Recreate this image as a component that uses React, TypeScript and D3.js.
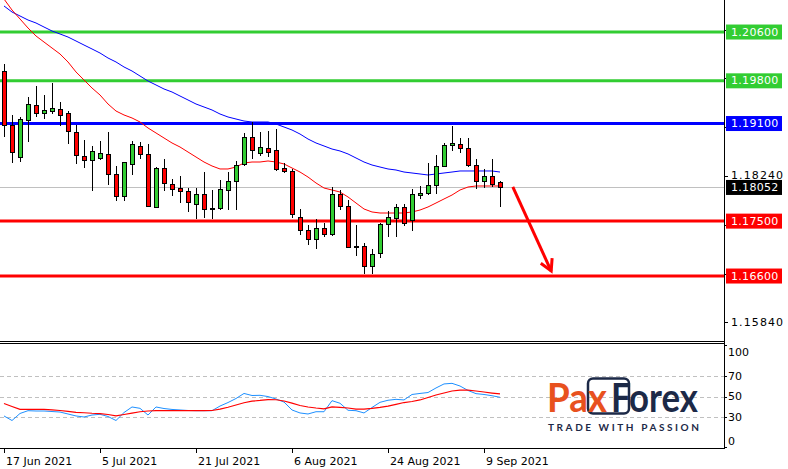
import * as d3 from "d3";

// daily EURUSD-like candles, 17 Jun 2021 .. 13 Sep 2021
const open = [
  1.19961, 1.19076, 1.18551, 1.19158, 1.19404, 1.19273, 1.19305, 1.19338, 1.19273, 1.18961,
  1.18568, 1.18502, 1.18535, 1.18601, 1.18273, 1.17912, 1.18437, 1.18732, 1.18601, 1.17732,
  1.18371, 1.18109, 1.18043, 1.17994, 1.17781, 1.17945, 1.17715, 1.17715, 1.1801, 1.18158,
  1.18437, 1.18879, 1.18617, 1.18699, 1.18666, 1.18371, 1.18322, 1.17568, 1.17355, 1.17207,
  1.17387, 1.17289, 1.17945, 1.17748, 1.17092, 1.17092, 1.16764, 1.16977, 1.17453, 1.17551,
  1.17732, 1.17518, 1.17928, 1.17961, 1.18092, 1.18404, 1.18748, 1.18764, 1.18699, 1.1842,
  1.18158, 1.1824, 1.18141,
];
const high = [
  1.20076, 1.1924, 1.19207, 1.19535, 1.19715, 1.19568, 1.19764, 1.19453, 1.19305, 1.19076,
  1.1883, 1.18732, 1.18814, 1.18961, 1.18404, 1.18469, 1.18814, 1.18797, 1.18764, 1.18387,
  1.18518, 1.18191, 1.1824, 1.18043, 1.18043, 1.18305, 1.1801, 1.18174, 1.18305, 1.18486,
  1.18945, 1.19125, 1.18961, 1.18978, 1.1901, 1.18453, 1.18355, 1.17699, 1.17437, 1.17535,
  1.17469, 1.18059, 1.1801, 1.17846, 1.17437, 1.17142, 1.17043, 1.17469, 1.17666, 1.17781,
  1.17781, 1.18027, 1.18076, 1.18453, 1.18584, 1.18781, 1.19059, 1.18863, 1.18863, 1.18518,
  1.18355, 1.18518, 1.18158,
];
const low = [
  1.18879, 1.18453, 1.18469, 1.18797, 1.19207, 1.19174, 1.19256, 1.19059, 1.18764, 1.18437,
  1.18371, 1.17994, 1.18502, 1.18092, 1.1783, 1.1783, 1.18256, 1.18518, 1.17732, 1.17715,
  1.17994, 1.17912, 1.17797, 1.1765, 1.17535, 1.17551, 1.17535, 1.17682, 1.17682, 1.17682,
  1.18404, 1.18518, 1.18568, 1.18551, 1.18322, 1.18289, 1.17551, 1.17273, 1.17109, 1.17043,
  1.1724, 1.17256, 1.17682, 1.17059, 1.16928, 1.16633, 1.16633, 1.16895, 1.1724, 1.1724,
  1.1742, 1.17338, 1.17863, 1.17928, 1.17945, 1.18387, 1.1865, 1.18617, 1.18387, 1.18027,
  1.18043, 1.18059, 1.17732,
];
const close = [
  1.19076, 1.18633, 1.19174, 1.1942, 1.19273, 1.19322, 1.19355, 1.1924, 1.18978, 1.18584,
  1.18502, 1.1865, 1.18617, 1.18273, 1.17912, 1.18469, 1.18764, 1.18601, 1.17748, 1.18371,
  1.18125, 1.18027, 1.17994, 1.17814, 1.17945, 1.17699, 1.17699, 1.18027, 1.18158, 1.1842,
  1.18879, 1.18666, 1.18715, 1.18633, 1.18355, 1.18322, 1.17617, 1.17355, 1.17207, 1.17387,
  1.17289, 1.17945, 1.17748, 1.17076, 1.17076, 1.16764, 1.16961, 1.17453, 1.17568, 1.17732,
  1.17469, 1.17945, 1.17961, 1.18092, 1.18404, 1.18748, 1.18781, 1.18699, 1.1842, 1.18158,
  1.1824, 1.18109, 1.18052,
];
const maFast = [
  1.21141, 1.20961, 1.20814, 1.20666, 1.20535, 1.20436, 1.20338, 1.2024, 1.20109, 1.19945,
  1.19814, 1.19682, 1.19568, 1.1942, 1.19305, 1.1924, 1.19191, 1.19125, 1.19027, 1.18945,
  1.18863, 1.18781, 1.18715, 1.18633, 1.18551, 1.18469, 1.18404, 1.18355, 1.18355, 1.18387,
  1.18453, 1.18469, 1.18469, 1.18486, 1.18469, 1.18437, 1.18371, 1.18305, 1.18223, 1.18125,
  1.18043, 1.1801, 1.17977, 1.17896, 1.17797, 1.17699, 1.1765, 1.17633, 1.17633, 1.17633,
  1.17633, 1.1765, 1.17682, 1.17732, 1.17797, 1.17863, 1.17928, 1.1801, 1.18059, 1.18076,
  1.18076, 1.18076, 1.18076,
];
const maSlow = [
  1.21027, 1.20928, 1.20863, 1.20797, 1.20748, 1.20682, 1.20617, 1.20568, 1.20518, 1.20453,
  1.20387, 1.20322, 1.20256, 1.20174, 1.20109, 1.20027, 1.19961, 1.19879, 1.19797, 1.19732,
  1.19666, 1.19617, 1.19551, 1.19486, 1.1942, 1.19371, 1.19322, 1.19256, 1.19207, 1.19174,
  1.19141, 1.19125, 1.19125, 1.19125, 1.19092, 1.19043, 1.18994, 1.18928, 1.18846, 1.18781,
  1.18732, 1.18682, 1.1865, 1.18601, 1.18535, 1.18469, 1.1842, 1.18387, 1.18355, 1.18338,
  1.18305, 1.18289, 1.18273, 1.18256, 1.18273, 1.18289, 1.18305, 1.18322, 1.18322, 1.18322,
  1.18322, 1.18322, 1.18305,
];
const oscMain = [
  31.3, 26.9, 33.7, 36.4, 36.1, 36.1, 35.6, 35.1, 33.2, 31.3,
  30.3, 32.2, 32.9, 30.8, 26.9, 34.6, 40.0, 38.7, 32.2, 40.0,
  38.5, 37.6, 37.1, 36.6, 36.4, 36.4, 36.4, 40.9, 44.3, 48.2,
  53.1, 51.1, 51.3, 50.1, 47.7, 44.8, 37.1, 34.2, 33.2, 35.4,
  35.4, 46.1, 43.6, 36.8, 36.4, 34.2, 39.5, 44.5, 46.5, 47.4,
  46.8, 52.1, 53.1, 54.0, 58.4, 62.3, 62.9, 60.3, 56.0, 52.9,
  52.1, 50.9, 49.4,
];
const oscSignal = [
  43.4, 40.5, 37.7, 37.7, 37.7, 37.6, 37.1, 36.6, 35.8, 34.8,
  34.4, 33.9, 33.6, 32.7, 31.3, 32.7, 34.0, 35.4, 36.1, 36.4,
  36.4, 36.4, 36.4, 36.4, 36.4, 36.4, 36.6, 38.0, 39.7, 41.9,
  44.1, 45.6, 46.3, 47.2, 47.0, 45.8, 43.8, 41.4, 40.0, 39.0,
  38.2, 40.0, 39.7, 39.0, 38.0, 38.0, 38.7, 39.7, 40.9, 42.6,
  44.3, 45.3, 46.8, 49.2, 51.6, 53.5, 55.5, 56.4, 56.4, 55.5,
  54.5, 53.5, 52.6,
];

const dateLabels = ["17 Jun 2021", "5 Jul 2021", "21 Jul 2021", "6 Aug 2021", "24 Aug 2021", "9 Sep 2021"];
const dateIdx = [0, 12, 24, 36, 48, 60];
const priceTicks = [1.1584, 1.1664, 1.1744, 1.1824, 1.1904, 1.1984, 1.2064];
const levels = [1.206, 1.198, 1.191, 1.175, 1.166];
const levelColors = ["#32cd32", "#32cd32", "#0000ff", "#ff0000", "#ff0000"];
const lastPrice = 1.18052;
const oscTicks = [100, 70, 50, 30, 0];
const oscLevels = [70, 50, 30];
// forecast arrow: [bar index, price]
const arrowFrom = [63.6, 1.1806];
const arrowTo = [68.4, 1.16682];

const W = 788;
const H = 469;
const AX = 725;
const FONT = "'DejaVu Sans', Tahoma, sans-serif";
const NAVY = "#1c2947";
const ORANGE = "#e8511e";

export default function App() {
  const x = d3.scaleLinear().domain([0, 90]).range([4, 724]);
  const y = d3.scaleLinear().domain([1.155512, 1.21125]).range([340, 0]);
  const yo = d3.scaleLinear().domain([30, 70]).range([417.3, 376]);

  const idx = d3.range(close.length);
  const priceLine = (arr: number[]) =>
    d3.line<number>().x((i) => x(i)).y((i) => y(arr[i]))(idx) || "";
  const oscLine = (arr: number[]) =>
    d3.line<number>().x((i) => x(i)).y((i) => yo(arr[i]))(idx) || "";

  // price labels hidden under the level boxes are not drawn
  const boxed = [...levels, lastPrice];
  const freeTicks = priceTicks.filter((p) => boxed.every((b) => Math.abs(y(b) - y(p)) > 9));

  const ax1 = x(arrowFrom[0]), ay1 = y(arrowFrom[1]);
  const ax2 = x(arrowTo[0]), ay2 = y(arrowTo[1]);
  const ang = Math.atan2(ay2 - ay1, ax2 - ax1);
  const hl = 13;
  const head = [ang + Math.PI - 0.5, ang + Math.PI + 0.5].map((a) => [ax2 + hl * Math.cos(a), ay2 + hl * Math.sin(a)]);

  return (
    <svg width={W} height={H} style={{ position: "absolute", left: 0, top: 0, background: "#fff" }} fontFamily={FONT}>
      <defs>
        <clipPath id="mainClip">
          <rect x={0} y={0} width={AX} height={341} />
        </clipPath>
        <clipPath id="oscClip">
          <rect x={0} y={344} width={AX} height={104} />
        </clipPath>
      </defs>
      <rect width={W} height={H} fill="#fff" />

      <g clipPath="url(#mainClip)">
        <line x1={0} x2={AX} y1={Math.round(y(lastPrice)) + 0.5} y2={Math.round(y(lastPrice)) + 0.5} stroke="#c0c0c0" />
        {levels.map((p, k) => (
          <line key={k} x1={0} x2={AX} y1={y(p)} y2={y(p)} stroke={levelColors[k]} strokeWidth={3} />
        ))}
        <path d={priceLine(maSlow)} fill="none" stroke="#0000ff" strokeWidth={1} />
        <path d={priceLine(maFast)} fill="none" stroke="#ff0000" strokeWidth={1} />
        {idx.map((i) => {
          const cx = Math.round(x(i));
          const top = Math.round(y(Math.max(open[i], close[i])));
          const bot = Math.round(y(Math.min(open[i], close[i])));
          const up = close[i] >= open[i];
          return (
            <g key={i} shapeRendering="crispEdges">
              <line x1={cx + 0.5} x2={cx + 0.5} y1={Math.round(y(high[i]))} y2={Math.round(y(low[i]))} stroke="#000" />
              <rect x={cx - 1.5} y={top + 0.5} width={4} height={Math.max(bot - top, 1)} fill={up ? "#32cd32" : "#ff0000"} stroke="#000" />
            </g>
          );
        })}
        <line x1={ax1} y1={ay1} x2={ax2} y2={ay2} stroke="#ff0000" strokeWidth={3} />
        <polyline
          points={`${head[0][0]},${head[0][1]} ${ax2},${ay2} ${head[1][0]},${head[1][1]}`}
          fill="none" stroke="#ff0000" strokeWidth={3} strokeLinejoin="miter"
        />
      </g>

      {/* oscillator */}
      <g clipPath="url(#oscClip)">
        {oscLevels.map((v) => (
          <line key={v} x1={0} x2={AX} y1={Math.round(yo(v)) + 0.5} y2={Math.round(yo(v)) + 0.5} stroke="#c0c0c0" strokeDasharray="4,3" />
        ))}
        <path d={oscLine(oscMain)} fill="none" stroke="#1e90ff" strokeWidth={1} />
        <path d={oscLine(oscSignal)} fill="none" stroke="#ff0000" strokeWidth={1.2} />
      </g>

      {/* frames */}
      <g stroke="#000" shapeRendering="crispEdges">
        <line x1={0} x2={AX} y1={341.5} y2={341.5} />
        <line x1={0} x2={AX} y1={343.5} y2={343.5} />
        <line x1={0} x2={AX} y1={448.5} y2={448.5} />
        <line x1={AX - 0.5} x2={AX - 0.5} y1={0} y2={448.5} />
        {priceTicks.map((p) => (
          <line key={p} x1={AX} x2={AX + 3} y1={Math.round(y(p)) + 0.5} y2={Math.round(y(p)) + 0.5} />
        ))}
        {oscTicks.map((v) => (
          <line key={v} x1={AX} x2={AX + 2} y1={Math.min(Math.max(Math.round(yo(v)), 345), 447) + 0.5} y2={Math.min(Math.max(Math.round(yo(v)), 345), 447) + 0.5} />
        ))}
        {dateIdx.map((i) => (
          <line key={i} x1={Math.round(x(i)) + 0.5} x2={Math.round(x(i)) + 0.5} y1={449} y2={453} />
        ))}
      </g>

      {/* price axis labels */}
      {freeTicks.map((p) => (
        <text key={p} x={731} y={y(p)} dominantBaseline="central" fontSize={11} letterSpacing={1.1} fill="#000">
          {p.toFixed(5)}
        </text>
      ))}
      {levels.map((p, k) => (
        <g key={k}>
          <rect x={726} y={y(p) - 7.5} width={56} height={15} fill={levelColors[k]} />
          <text x={731} y={y(p)} dominantBaseline="central" fontSize={11} letterSpacing={0.3} fill="#fff">
            {p.toFixed(5)}
          </text>
        </g>
      ))}
      <rect x={726} y={y(lastPrice) - 7.5} width={56} height={15} fill="#000" />
      <text x={731} y={y(lastPrice)} dominantBaseline="central" fontSize={11} letterSpacing={0.3} fill="#fff">
        {lastPrice.toFixed(5)}
      </text>

      {oscTicks.map((v) => (
        <text key={v} x={728} y={Math.min(Math.max(yo(v), 352.7), 441)} dominantBaseline="central" fontSize={11} fill="#000">
          {v}
        </text>
      ))}

      {dateLabels.map((d, k) => (
        <text key={d} x={x(dateIdx[k]) + 2} y={465} fontSize={11} fill="#000">
          {d}
        </text>
      ))}

      {/* logo */}
      <g fontFamily="Lato, 'Open Sans', sans-serif" fontWeight={700}>
        <rect x={588} y={378.5} width={41} height={35} rx={5} fill="none" stroke={NAVY} strokeWidth={2.5} />
        <text x={547} y={411.5} fontSize={41} fill={ORANGE} textLength={60} lengthAdjust="spacingAndGlyphs">Pax</text>
        <text x={611} y={411.5} fontSize={41} fill={NAVY} textLength={87} lengthAdjust="spacingAndGlyphs">Forex</text>
        <text x={548} y={431} fontSize={10} fill={NAVY} textLength={151} lengthAdjust="spacing">TRADE WITH PASSION</text>
      </g>
    </svg>
  );
}
